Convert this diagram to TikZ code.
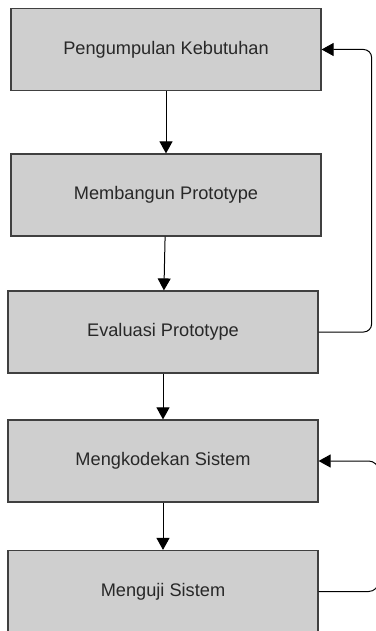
\documentclass[tikz,border=0pt]{standalone}
\usepackage{fontspec}
\setmainfont{Liberation Sans}
\usetikzlibrary{arrows.meta}
\definecolor{boxfill}{RGB}{207,207,207}
\definecolor{boxline}{RGB}{64,64,64}
\definecolor{boxtext}{RGB}{40,40,40}

\begin{document}
\begin{tikzpicture}[x=0.5pt,y=-0.5pt,
        stage/.style={draw=boxline,fill=boxfill,line width=0.6pt,minimum width=155pt,minimum height=41pt,inner sep=0pt,text=boxtext,font=\fontsize{9.1}{11}\selectfont},
        flow/.style={line width=0.5pt,-{Triangle[width=6.5pt,length=6pt]}}]
            \useasboundingbox (0,0) rectangle (375,631);
            \node[stage] (kebutuhan) at (166,49.5) {Pengumpulan Kebutuhan};
            \node[stage] (membangun) at (166,195) {Membangun Prototype};
            \node[stage] (evaluasi) at (163,332) {Evaluasi Prototype};
            \node[stage] (kode) at (163,461) {Mengkodekan Sistem};
            \node[stage] (uji) at (163,591.5) {Menguji Sistem};
            \draw[flow] (kebutuhan) -- (membangun);
            \draw[flow] (membangun) -- (evaluasi);
            \draw[flow] (evaluasi) -- (kode);
            \draw[flow] (kode) -- (uji);
            \draw[flow,rounded corners=4pt] (evaluasi.east) -- ++(53,0) |- (kebutuhan.east);
            \draw[flow,rounded corners=5pt] (uji.east) -- ++(60,0) |- (kode.east);
        \end{tikzpicture}
\end{document}
